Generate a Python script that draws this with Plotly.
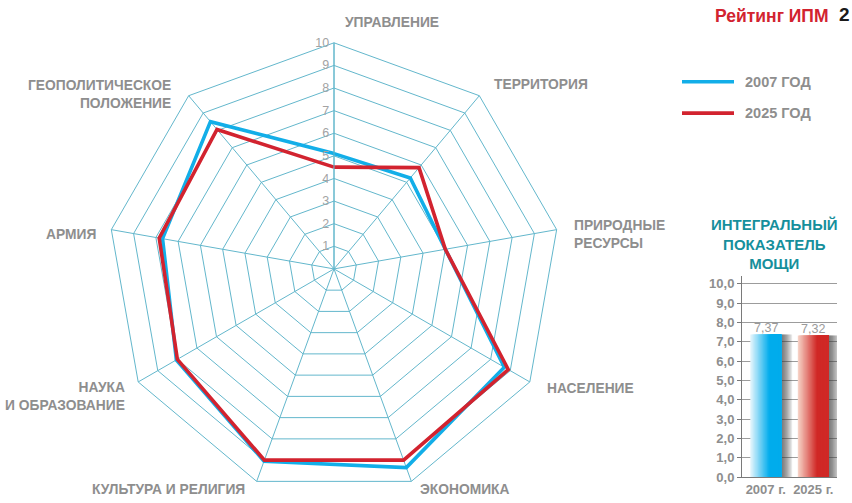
import plotly.graph_objects as go

# ---- radar data -------------------------------------------------------
categories = [
    "УПРАВЛЕНИЕ",
    "ТЕРРИТОРИЯ",
    "ПРИРОДНЫЕ РЕСУРСЫ",
    "НАСЕЛЕНИЕ",
    "ЭКОНОМИКА",
    "КУЛЬТУРА И РЕЛИГИЯ",
    "НАУКА И ОБРАЗОВАНИЕ",
    "АРМИЯ",
    "ГЕОПОЛИТИЧЕСКОЕ ПОЛОЖЕНИЕ",
]
values_2007 = [5.1, 5.25, 5.0, 8.7, 9.35, 9.05, 8.05, 7.7, 8.5]
values_2025 = [4.5, 5.85, 5.0, 8.9, 9.0, 9.0, 8.0, 7.85, 8.05]
radial_ticks = [1, 2, 3, 4, 5, 6, 7, 8, 9, 10]

# ---- integral index data ------------------------------------------------
years = ["2007 г.", "2025 г."]
integral = [7.37, 7.32]
bar_ticks = [0, 1, 2, 3, 4, 5, 6, 7, 8, 9, 10]

W, H = 852, 503
FONT = "Liberation Sans, Arial, sans-serif"
TEAL_GRID = "#63b7cc"
BLUE = "#12aee8"
RED = "#d2232f"
GRAY = "#8e8e8e"


def px(x):
    return x / W


def py(y):
    return 1 - y / H


fig = go.Figure()

# closed polygons for the radar series
theta = categories + categories[:1]
fig.add_trace(go.Scatterpolar(
    r=values_2007 + values_2007[:1], theta=theta, mode="lines",
    line=dict(color=BLUE, width=3.6), name="2007 ГОД", showlegend=False,
))
fig.add_trace(go.Scatterpolar(
    r=values_2025 + values_2025[:1], theta=theta, mode="lines",
    line=dict(color=RED, width=3.6), name="2025 ГОД", showlegend=False,
))
# hub dot
fig.add_trace(go.Scatterpolar(
    r=[0], theta=categories[:1], mode="markers",
    marker=dict(color=TEAL_GRID, size=6), showlegend=False, hoverinfo="skip",
))

# ---- bar inset: horizontal gradient built from overlapping bars ---------
BAR_W = 0.65
N_STRIPS = 24
blue_l, blue_r = (232, 247, 253), (0, 172, 236)
red_l, red_r = (247, 214, 202), (208, 40, 38)


def mix(a, b, t):
    return "rgb(%d,%d,%d)" % tuple(round(a[i] + (b[i] - a[i]) * t) for i in range(3))


# soft drop shadow on the right side of each bar
SH_W = 0.28
N_SH = 10
for k in range(N_SH):
    fig.add_trace(go.Bar(
        x=years, y=integral, xaxis="x", yaxis="y",
        width=SH_W * (N_SH - k) / N_SH, offset=BAR_W / 2 - 0.05,
        marker=dict(color="rgba(60,60,60,0.12)", line=dict(width=0)),
        showlegend=False, hoverinfo="skip",
    ))

# each layer starts further right and runs to the bar's right edge,
# so later layers cover the earlier ones without seams
for k in range(N_STRIPS):
    t = min(1.0, (k + 0.5) / (N_STRIPS * 0.62))
    start = k * BAR_W / N_STRIPS
    fig.add_trace(go.Bar(
        x=years, y=integral, xaxis="x", yaxis="y",
        width=BAR_W - start, offset=-BAR_W / 2 + start,
        marker=dict(color=[mix(blue_l, blue_r, t), mix(red_l, red_r, t)], line=dict(width=0)),
        showlegend=False, hoverinfo="skip",
    ))

# ---- axis labels around the radar -------------------------------------
label_spots = [
    ("УПРАВЛЕНИЕ", 343, 23, "left"),
    ("ТЕРРИТОРИЯ", 492, 86, "left"),
    ("ПРИРОДНЫЕ<br>РЕСУРСЫ", 572, 238, "left"),
    ("НАСЕЛЕНИЕ", 545, 395, "left"),
    ("ЭКОНОМИКА", 418, 497, "left"),
    ("КУЛЬТУРА И РЕЛИГИЯ", 247, 497, "right"),
    ("НАУКА<br>И ОБРАЗОВАНИЕ", 127, 403, "right"),
    ("АРМИЯ", 98, 238, "right"),
    ("ГЕОПОЛИТИЧЕСКОЕ<br>ПОЛОЖЕНИЕ", 173, 96, "right"),
]
annotations = []
for text, x, y, side in label_spots:
    annotations.append(dict(
        text=text, x=px(x), y=py(y), xref="paper", yref="paper",
        xanchor=side, yanchor="middle", align=side, showarrow=False,
        font=dict(family=FONT, size=13.8, color=GRAY, weight="bold"),
    ))

# value labels above the bars
for yr, v in zip(years, integral):
    annotations.append(dict(
        text=("%.2f" % v).replace(".", ","), x=yr, y=v, xref="x", yref="y",
        xanchor="center", yanchor="bottom", yshift=-2, showarrow=False,
        font=dict(family=FONT, size=12.5, color="#9a9a9a"),
    ))

# header
annotations.append(dict(
    text="Рейтинг ИПМ", x=px(831), y=py(16), xref="paper", yref="paper",
    xanchor="right", yanchor="middle", showarrow=False,
    font=dict(family=FONT, size=17.5, color=RED, weight="bold"),
))
annotations.append(dict(
    text="2", x=px(837), y=py(15), xref="paper", yref="paper",
    xanchor="left", yanchor="middle", showarrow=False,
    font=dict(family=FONT, size=19, color="#1a1a1a", weight="bold"),
))

# legend
shapes = []
for yy, col, lab in [(83, BLUE, "2007 ГОД"), (115, RED, "2025 ГОД")]:
    shapes.append(dict(type="line", xref="paper", yref="paper",
                       x0=px(682), x1=px(734), y0=py(yy), y1=py(yy),
                       line=dict(color=col, width=3.6)))
    annotations.append(dict(
        text=lab, x=px(743), y=py(yy), xref="paper", yref="paper",
        xanchor="left", yanchor="middle", showarrow=False,
        font=dict(family=FONT, size=14.5, color=GRAY, weight="bold"),
    ))

# inset title
annotations.append(dict(
    text="ИНТЕГРАЛЬНЫЙ<br>ПОКАЗАТЕЛЬ<br>МОЩИ", x=px(774), y=py(248), xref="paper", yref="paper",
    xanchor="center", yanchor="middle", align="center", showarrow=False,
    font=dict(family=FONT, size=15, color="#168f9c", weight="bold"),
))

fig.update_layout(
    width=W, height=H,
    margin=dict(l=0, r=0, t=0, b=0),
    paper_bgcolor="white", plot_bgcolor="rgba(0,0,0,0)",
    separators=", ",
    barmode="overlay",
    showlegend=False,
    polar=dict(
        domain=dict(x=[px(102.5), px(565.5)], y=[0, py(43.5)]),
        gridshape="linear",
        bgcolor="rgba(0,0,0,0)",
        angularaxis=dict(
            rotation=90, direction="clockwise", showticklabels=False, ticks="",
            gridcolor=TEAL_GRID, gridwidth=1, showline=True, linecolor=TEAL_GRID, linewidth=1,
        ),
        radialaxis=dict(
            range=[0, 10], tickvals=radial_ticks, angle=90, side="counterclockwise",
            tickangle=90, showline=True, linecolor=TEAL_GRID, linewidth=1,
            gridcolor=TEAL_GRID, gridwidth=1, ticks="",
            tickfont=dict(family=FONT, size=12.5, color="#a3a3a3"),
        ),
    ),
    xaxis=dict(
        domain=[px(742), px(837)], anchor="y", range=[-0.5, 1.5],
        showline=True, linecolor="#7a7a7a", linewidth=1, showgrid=False, ticks="",
        tickfont=dict(family=FONT, size=13, color=GRAY, weight="bold"),
        fixedrange=True,
    ),
    yaxis=dict(
        domain=[py(485), py(280.4)], anchor="x", range=[0, 10.4],
        tickvals=bar_ticks, tickformat=".1f",
        showline=True, linecolor="#7a7a7a", linewidth=1,
        ticks="outside", ticklen=4, tickcolor="#7a7a7a",
        showgrid=True, gridcolor="#9c9c9c", gridwidth=1, zeroline=False,
        tickfont=dict(family=FONT, size=13, color=GRAY, weight="bold"),
        fixedrange=True,
    ),
    annotations=annotations,
    shapes=shapes,
)

fig.write_html("out.html")
